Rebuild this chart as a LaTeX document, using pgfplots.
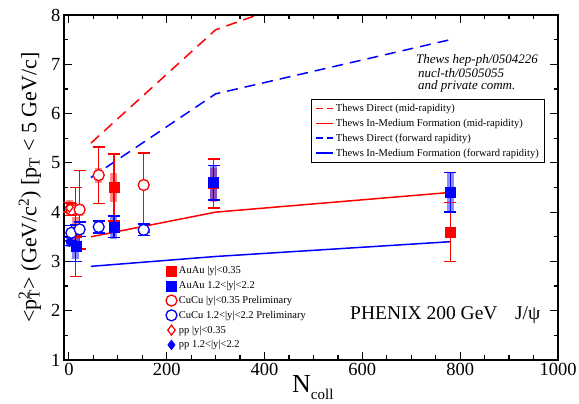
\documentclass[border=0pt]{standalone}
\usepackage{fontspec}
\setmainfont{Liberation Serif}
\usepackage{pgfplots}
\pgfplotsset{compat=1.18}

\begin{document}
\begin{tikzpicture}
\pgfplotsset{
  base/.style={
    width=494pt, height=345pt, scale only axis,
    xmin=-10, xmax=1000, ymin=1, ymax=8,
    /pgf/number format/assume math mode=true,
    /pgf/number format/1000 sep={},
  },
  sys/.style={forget plot, only marks, mark=none,
    error bars/y dir=both, error bars/y explicit, error bars/error mark=none,
    error bars/error bar style={line width=7pt, opacity=0.45}},
  stat/.style={only marks,
    error bars/y dir=both, error bars/y explicit,
    error bars/error bar style={line width=1.4pt},
    error bars/error mark options={rotate=90, mark size=6pt, line width=1.4pt}},
  th/.style={line width=1.5pt},
  thd/.style={line width=1.5pt, dash pattern=on 11pt off 7pt,
    legend image post style={dash pattern=on 7pt off 4pt}},
}
\begin{axis}[base, name=ax,
  xtick={0,200,...,1000}, minor x tick num=3,
  ytick={1,...,8}, minor y tick num=1,
  tick align=inside,
  major tick length=8pt, minor tick length=4.5pt,
  axis line style={line width=1.5pt},
  every tick/.style={black, line width=1.2pt},
  tick label style={font=\fontsize{18.5}{18.5}\selectfont},
  xlabel={\fontsize{26}{26}\selectfont N{\fontsize{15}{15}\selectfont\raisebox{-7pt}{coll}}},
  xlabel style={at={(axis description cs:0.4615,-0.093)}, anchor=base west, inner sep=0pt},
  ylabel={\fontsize{22}{22}\selectfont <p\rlap{\textsuperscript{2}}\textsubscript{T}> (GeV/c\textsuperscript{2}) [p\textsubscript{T} < 5 GeV/c]},
  ylabel style={at={(axis description cs:-0.069,0.5)}, anchor=center, rotate=0},
  legend style={at={(axis description cs:0.974,0.757)}, anchor=north east,
    font=\fontsize{10.5}{12}\selectfont, draw=black, line width=0.7pt,
    inner xsep=4pt, inner ysep=3pt, row sep=2pt},
  legend cell align=left,
]
\addplot[red, thd] coordinates {(45,5.4) (300,7.7) (780,9.4)};
\addlegendentry{Thews Direct (mid-rapidity)}
\addplot[red, th] coordinates {(45,3.5) (300,4.0) (780,4.4)};
\addlegendentry{Thews In-Medium Formation (mid-rapidity)}
\addplot[blue, thd] coordinates {(45,4.7) (300,6.4) (780,7.5)};
\addlegendentry{Thews Direct (forward rapidity)}
\addplot[blue, th] coordinates {(45,2.9) (300,3.1) (780,3.4)};
\addlegendentry{Thews In-Medium Formation (forward rapidity)}

\node[anchor=base west, inner sep=0pt, font=\fontsize{13}{13}\selectfont\itshape] at (axis description cs:0.7126,0.858) {Thews hep-ph/0504226};
\node[anchor=base west, inner sep=0pt, font=\fontsize{13}{13}\selectfont\itshape] at (axis description cs:0.7166,0.820) {nucl-th/0505055};
\node[anchor=base west, inner sep=0pt, font=\fontsize{13}{13}\selectfont\itshape] at (axis description cs:0.7166,0.783) {and private comm.};
\node[anchor=base west, inner sep=0pt, font=\fontsize{19.5}{19.5}\selectfont] at (axis description cs:0.579,0.116) {PHENIX 200 GeV\hspace{0.9em}J/ψ};
\end{axis}

\begin{axis}[base, hide axis, clip=false,
  legend style={at={(axis description cs:0.204,0.28)}, anchor=north west,
    font=\fontsize{10.5}{12}\selectfont, draw=none, fill=none,
    inner sep=1pt, row sep=2pt},
  legend cell align=left,
]
% systematic boxes
\addplot[sys, red] coordinates {(14,3.6) +- (0,0.3) (92,4.5) +- (0,0.3) (296,4.55) +- (0,0.35)};
\addplot[sys, blue] coordinates {(14,3.3) +- (0,0.25) (92,3.7) +- (0,0.25) (296,4.6) +- (0,0.35) (780,4.4) +- (0,0.4)};
\addplot[sys, red] coordinates {(5,4.05) +- (0,0.12) (22,4.05) +- (0,0.12) (61,4.75) +- (0,0.15) (153,4.55) +- (0,0.1)};
\addplot[sys, blue] coordinates {(5,3.58) +- (0,0.08) (22,3.65) +- (0,0.08) (61,3.7) +- (0,0.08) (153,3.64) +- (0,0.08)};
\addplot[sys, red] coordinates {(1,4.1) +- (0,0.15)};
\addplot[sys, blue] coordinates {(1,3.4) +- (0,0.1)};
% data
\addplot[stat, red, mark=square*, mark size=5pt] coordinates {
  (14,3.6) +- (0,0.9) (92,4.5) +- (0,0.68) (296,4.58) +- (0,0.5) (780,3.6) +- (0,0.6)};
\addlegendentry{AuAu |y|<0.35}
\addplot[stat, blue, mark=square*, mark size=5pt] coordinates {
  (14,3.3) += (0,0.45) -= (0,0.3) (92,3.7) +- (0,0.22) (296,4.6) +- (0,0.35) (780,4.4) +- (0,0.4)};
\addlegendentry{AuAu 1.2<|y|<2.2}
\addplot[stat, red, mark=*, mark size=5.5pt, mark options={fill=white, line width=1.3pt}] coordinates {
  (5,4.05) +- (0,0.12) (22,4.05) +- (0,0.8) (61,4.75) +- (0,0.57) (153,4.55) += (0,0.65) -= (0,0.95)};
\addlegendentry{CuCu |y|<0.35 Preliminary}
\addplot[stat, blue, mark=*, mark size=5.5pt, mark options={fill=white, line width=1.3pt}] coordinates {
  (5,3.58) +- (0,0.15) (22,3.65) +- (0,0.15) (61,3.7) +- (0,0.12) (153,3.64) +- (0,0.12)};
\addlegendentry{CuCu 1.2<|y|<2.2 Preliminary}
\addplot[stat, red, mark=diamond, mark size=5pt, mark options={fill=white, line width=1.2pt}] coordinates {
  (1,4.1) +- (0,0.1)};
\addlegendentry{pp |y|<0.35}
\addplot[stat, blue, mark=diamond*, mark size=5pt] coordinates {
  (1,3.4) +- (0,0.08)};
\addlegendentry{pp 1.2<|y|<2.2}
\end{axis}
\pgfresetboundingbox
\path ([shift={(-64pt,-44pt)}]ax.south west) rectangle ([shift={(21pt,15pt)}]ax.north east);
\end{tikzpicture}
\end{document}
